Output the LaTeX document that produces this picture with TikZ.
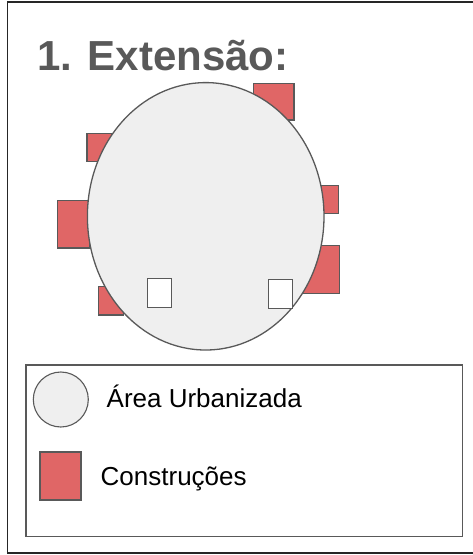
\documentclass[tikz,border=0pt]{standalone}
\usepackage{fontspec}
\setmainfont{Liberation Sans}
\definecolor{stroke}{HTML}{595959}
\definecolor{redfill}{HTML}{E06666}
\definecolor{areafill}{HTML}{EFEFEF}
\begin{document}
\begin{tikzpicture}[x=1pt,y=-1pt,
  house/.style={draw=stroke,fill=redfill,line width=1.3pt},
  hole/.style={draw=stroke,fill=white,line width=1.3pt},
  area/.style={draw=stroke,fill=areafill,line width=1.3pt}]
\useasboundingbox (0,0) rectangle (473,555);
\begin{scope}
\clip (0,0) rectangle (473,555);
\draw[line width=1.3pt,black!85] (7.5,2) rectangle (480,553);
\end{scope}
\node[anchor=base west,inner sep=0,text=stroke,font=\fontsize{42}{50}\selectfont\bfseries] (title) at (37,70) {1. Extensão:};
% red buildings behind the area
\draw[house] (253.3,83.3) rectangle (294,120);
\draw[house] (87,133.3) rectangle (111.7,161.7);
\draw[house] (57.7,200.7) rectangle (90,248);
\draw[house] (321.7,185.7) rectangle (338.7,213.7);
\draw[house] (301.7,245.7) rectangle (339.7,293.3);
\draw[house] (98.3,286.7) rectangle (123.3,315);
% urban area
\draw[area] (205.7,216.3) ellipse [x radius=118.3, y radius=133.7];
% white squares
\draw[hole] (147.3,278.7) rectangle (171.7,307.3);
\draw[hole] (268.3,279.3) rectangle (292.7,308.3);
% legend
\draw[draw=stroke,line width=1.1pt] (26,365) rectangle (462.7,536.7);
\draw[area,line width=1.1pt] (60.8,399.5) circle (27.5);
\node[anchor=base west,inner sep=0,font=\fontsize{26}{31}\selectfont] (l1) at (106.5,407.3) {Área Urbanizada};
\draw[house,line width=1.1pt] (40,452) rectangle (81,500);
\node[anchor=base west,inner sep=0,font=\fontsize{26}{31}\selectfont] (l2) at (100.5,485) {Construções};
\end{tikzpicture}
\end{document}
